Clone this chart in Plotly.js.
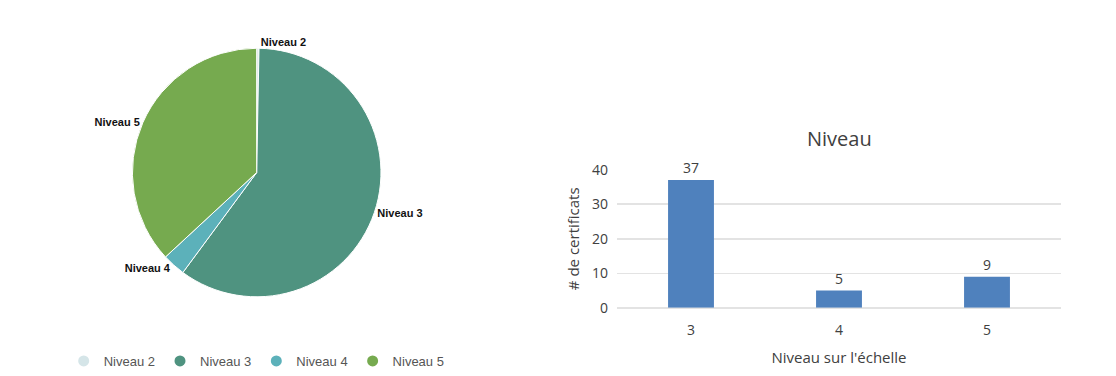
<!DOCTYPE html>
<html>
<head>
<meta charset="utf-8">
<script src="https://cdn.plot.ly/plotly-3.0.1.min.js"></script>
<style>html,body{margin:0;padding:0;background:#fff;}#chart{width:1116px;height:376px;}</style>
</head>
<body>
<div id="chart"></div>
<script>
// Pie (left): share by level
const pieLabels = ["Niveau 2", "Niveau 3", "Niveau 4", "Niveau 5"];
const pieValues = [0.3, 60, 3, 37];
const pieColors = ["#d5e5e8", "#4f9380", "#5cb1ba", "#76aa4f"];

// Bar (right): number of certificates by level
const barCategories = ["3", "4", "5"];
const barValues = [37, 5, 9];

const W = 1116, H = 376;

const traces = [];
traces.push({
  type: "pie",
  labels: pieLabels,
  values: pieValues,
  sort: false,
  direction: "clockwise",
  rotation: 0,
  marker: {colors: pieColors, line: {color: "#ffffff", width: 1}},
  textinfo: "label",
  textposition: "outside",
  textfont: {family: "Liberation Sans, Arial, sans-serif", size: 11, color: "#111111", weight: "bold"},
  showlegend: false,
  hoverinfo: "label+value",
  domain: {x: [0.08, 0.38], y: [0.2, 0.87]}
});

// legend entries with circle markers
pieLabels.forEach((lab, i) => {
  traces.push({
    type: "scatter", mode: "markers",
    x: [null], y: [null],
    xaxis: "x2", yaxis: "y2",
    name: lab,
    marker: {color: pieColors[i], size: 11, symbol: "circle"},
    showlegend: true, hoverinfo: "skip"
  });
});

traces.push({
  type: "bar",
  x: barCategories,
  y: barValues,
  marker: {color: "#4f81bd"},
  text: barValues.map(String),
  textposition: "outside",
  textfont: {family: "Open Sans, Liberation Sans, sans-serif", size: 14, color: "#404040"},
  cliponaxis: false,
  showlegend: false,
  hoverinfo: "x+y"
});

const layout = {
  width: W, height: H,
  margin: {l: 0, r: 0, t: 0, b: 0},
  paper_bgcolor: "#ffffff",
  plot_bgcolor: "#ffffff",
  font: {family: "Open Sans, Liberation Sans, sans-serif", color: "#404040"},
  bargap: 0.69,
  showlegend: true,
  legend: {
    orientation: "h",
    x: 0.23, xanchor: "center",
    y: 0.027, yanchor: "middle",
    font: {family: "Liberation Sans, Arial, sans-serif", size: 13, color: "#555555"},
    itemwidth: 30,
    tracegroupgap: 0
  },
  xaxis: {
    domain: [617 / W, 1061 / W],
    anchor: "y",
    type: "category",
    showgrid: false,
    zeroline: false,
    showline: false,
    ticks: "",
    ticklabelstandoff: 12,
    tickfont: {size: 14, color: "#404040"},
    title: {text: "Niveau sur l'échelle", font: {size: 15, color: "#404040"}, standoff: 14}
  },
  yaxis: {
    domain: [64 / H, 204 / H],
    anchor: "x",
    range: [0, 40],
    dtick: 10,
    showgrid: true,
    gridcolor: "#e3e3e3",
    gridwidth: 1.5,
    zeroline: true,
    zerolinecolor: "#e3e3e3",
    zerolinewidth: 1.5,
    showline: false,
    ticks: "",
    ticklabelstandoff: 8,
    tickfont: {size: 14, color: "#404040"},
    title: {text: "# de certificats", font: {size: 15, color: "#404040"}, standoff: 8}
  },
  xaxis2: {domain: [0, 0.01], anchor: "y2", visible: false},
  yaxis2: {domain: [0, 0.01], anchor: "x2", visible: false},
  annotations: [{
    text: "Niveau",
    xref: "paper", yref: "paper",
    x: 839 / W, y: (H - 140) / H,
    xanchor: "center", yanchor: "middle",
    showarrow: false,
    font: {size: 20, color: "#404040"}
  }]
};

Plotly.newPlot("chart", traces, layout, {displayModeBar: false, staticPlot: true});
</script>
</body>
</html>
